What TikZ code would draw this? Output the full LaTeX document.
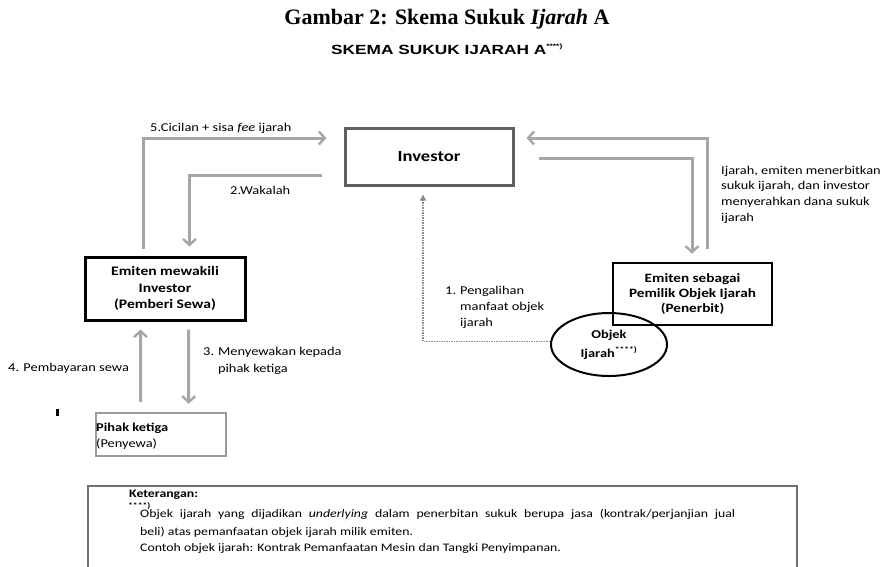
\documentclass[tikz,border=0pt]{standalone}
\usepackage{fontspec}
\setmainfont{Carlito}[FakeStretch=1.2]
\newfontfamily\titlefont{Liberation Serif}
\newfontfamily\headfont{Liberation Sans}[FakeStretch=1.3]
\usetikzlibrary{arrows.meta,shapes.geometric}
\definecolor{arrgray}{HTML}{A6A6A6}
\definecolor{boxgray}{HTML}{5F5F5F}
\definecolor{lightbox}{HTML}{9A9A9A}
\definecolor{dotgray}{HTML}{8C8C8C}
\definecolor{ketgray}{HTML}{707070}
\tikzset{
  garrow/.style={draw=arrgray, line width=3pt, -{Straight Barb[length=6pt,width=13pt,line width=2.4pt]}},
  dotarrow/.style={draw=dotgray, line width=1.9pt, dash pattern=on 1.3pt off 1.2pt, -{Triangle[length=6pt,width=6pt,sep=0pt]}},
  boldbox/.style={draw=black, line width=3pt, align=center, inner sep=0pt},
  txt/.style={inner sep=0pt, font=\fontsize{12pt}{15.7pt}\selectfont},
}
\begin{document}
\begin{tikzpicture}[x=1pt,y=-1pt]
\path[use as bounding box] (0,0) rectangle (891,566);
% titles
\node[anchor=base, inner sep=0pt, font=\titlefont\fontsize{22pt}{24pt}\selectfont\bfseries] (title) at (447,24) {Gambar 2: Skema Sukuk \textit{Ijarah} A};
\node[anchor=base, inner sep=0pt, font=\headfont\fontsize{13.3pt}{15pt}\selectfont\bfseries] (sub) at (447,54) {SKEMA SUKUK IJARAH A\textsuperscript{\fontsize{6.5pt}{6.5pt}\selectfont ****)}};
% boxes
\node[draw=boxgray, line width=3pt, minimum width=168pt, minimum height=57pt, inner sep=0pt, font=\fontsize{15.5pt}{18pt}\selectfont\bfseries] (inv) at (429,156.5) {Investor};
\node[boldbox, minimum width=160pt, minimum height=63pt, font=\fontsize{13pt}{16.5pt}\selectfont\bfseries] (wakil) at (165,288.5) {Emiten mewakili\\Investor\\(Pemberi Sewa)};
\node[boldbox, line width=2.6pt, minimum width=159pt, minimum height=62pt, font=\fontsize{12.7pt}{15pt}\selectfont\bfseries] (penerbit) at (692.5,294) {Emiten sebagai\\Pemilik Objek Ijarah\\(Penerbit)};
\node[draw=lightbox, line width=2.5pt, minimum width=130pt, minimum height=43pt, inner sep=0pt] (pihak) at (161,434.5) {};
\node[ellipse, draw=black, line width=2pt, minimum width=116pt, minimum height=63pt, inner sep=0pt, align=center, font=\fontsize{12pt}{19pt}\selectfont\bfseries] (objek) at (609,344.5) {Objek\\Ijarah\textsuperscript{\fontsize{8pt}{8pt}\selectfont ****)}};
% pihak ketiga text
\node[anchor=base west, inner sep=0pt, font=\fontsize{12pt}{16pt}\selectfont\bfseries] (pk1) at (96,431) {Pihak ketiga};
\node[anchor=base west, txt] (pk2) at (96,447) {(Penyewa)};
% tick mark
\fill[black] (56,409) rectangle (58.5,416);
% arrows
\draw[garrow] ([xshift=60pt,yshift=7pt]wakil.north west) |- ([xshift=-17pt,yshift=18.5pt]inv.west);
\draw[garrow] ([xshift=-22pt,yshift=-18.5pt]inv.west) -| ([xshift=106pt,yshift=9pt]wakil.north west);
\draw[garrow] ([xshift=14.5pt,yshift=13pt]penerbit.north) |- ([xshift=12pt,yshift=18.5pt]inv.east);
\draw[garrow] ([xshift=24pt,yshift=-1.5pt]inv.east) -| ([xshift=-0.5pt,yshift=8pt]penerbit.north);
\draw[garrow] ([xshift=46pt,yshift=10pt]pihak.north west) -- ([xshift=57pt,yshift=-8pt]wakil.south west);
\draw[garrow] ([xshift=105pt,yshift=-8pt]wakil.south west) -- ([xshift=94pt,yshift=8pt]pihak.north west);
\draw[dotarrow] ([yshift=3pt]objek.west) -| ([xshift=-6pt,yshift=-8pt]inv.south);
% labels
\node[anchor=base west, txt] (l5) at (150,131) {5.Cicilan + sisa \textit{fee} ijarah};
\node[anchor=base west, txt] (l2) at (230,194) {2.Wakalah};
\node[anchor=north west, txt, align=left] (lr) at (721,165.5) {Ijarah, emiten menerbitkan\\sukuk ijarah, dan investor\\menyerahkan dana sukuk\\ijarah};
\node[anchor=north west, txt] (l1) at (445,283.5) {\begin{tabular}{@{}l@{\hspace{4pt}}l@{}}1.&Pengalihan\\&manfaat objek\\&ijarah\end{tabular}};
\node[anchor=base west, txt] (l4) at (8,371) {4. Pembayaran sewa};
\node[anchor=north west, txt] (l3) at (203,344) {\begin{tabular}{@{}l@{\hspace{4pt}}l@{}}3.&Menyewakan kepada\\[2pt]&pihak ketiga\end{tabular}};
% keterangan
\node[draw=ketgray, line width=2.5pt, minimum width=709pt, minimum height=82pt, inner sep=0pt] (ket) at (442.5,527) {};
\node[anchor=base west, inner sep=0pt, font=\fontsize{11.5pt}{14pt}\selectfont\bfseries] (k0) at (129,497) {Keterangan:};
\node[anchor=base west, inner sep=0pt, font=\fontsize{8pt}{8pt}\selectfont\bfseries] (k1) at (128,508) {****)};
\node[anchor=base west, inner sep=0pt, font=\fontsize{11.5pt}{14pt}\selectfont] (k2) at (140,517) {\makebox[595pt][s]{Objek ijarah yang dijadikan \textit{underlying} dalam penerbitan sukuk berupa jasa (kontrak/perjanjian jual}};
\node[anchor=base west, inner sep=0pt, font=\fontsize{11.5pt}{14pt}\selectfont] (k3) at (140,535) {beli) atas pemanfaatan objek ijarah milik emiten.};
\node[anchor=base west, inner sep=0pt, font=\fontsize{11.5pt}{14pt}\selectfont] (k4) at (140,551) {Contoh objek ijarah: Kontrak Pemanfaatan Mesin dan Tangki Penyimpanan.};
\end{tikzpicture}
\end{document}
